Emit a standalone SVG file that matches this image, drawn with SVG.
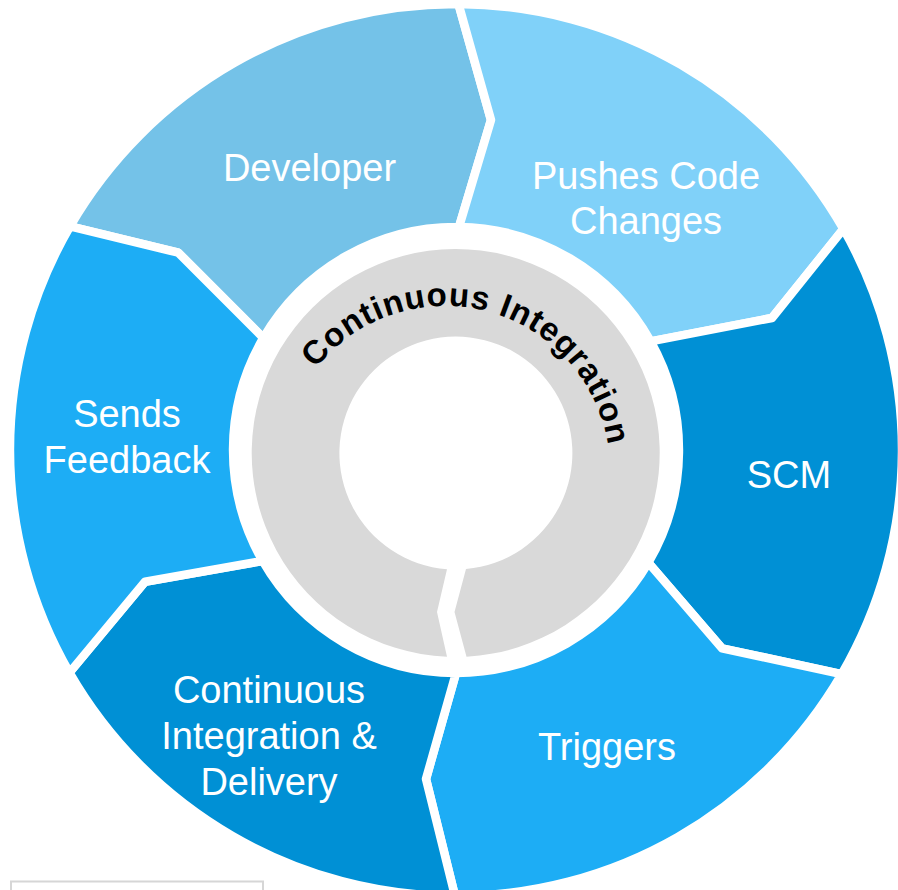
<svg xmlns="http://www.w3.org/2000/svg" width="898" height="890" viewBox="0 0 898 890">
  <style>
    .seg { stroke: #ffffff; stroke-width: 8.5; stroke-linejoin: round; }
    .lbl { font-family: "Liberation Sans", Arial, sans-serif; font-size: 38px; fill: #ffffff; text-anchor: middle; }
    .ring-lbl { font-family: "Liberation Sans", Arial, sans-serif; font-size: 33px; font-weight: bold; fill: #000000; letter-spacing: 0.9px; }
  </style>
  <defs>
    <path id="arcPath" d="M315.5,368.7 A165,165 0 0 1 604.4,513.7" fill="none"/>
  </defs>
  <rect width="898" height="890" fill="#ffffff"/>

  <g id="node-developer">
    <path class="seg" fill="#74C2E8" d="M70.1,226.3 A446,446 0 0 1 458.5,4 L491,120 L459,227 A223,223 0 0 0 263.3,337.9 L178.3,252.7 Z"/>
    <text class="lbl" x="309.5" y="181">Developer</text>
  </g>

  <g id="node-pushes">
    <path class="seg" fill="#80D1F9" d="M458.5,4 A446,446 0 0 1 843.4,229 L772,318 L650.7,341.4 A223,223 0 0 0 459,227 L491,120 Z"/>
    <text class="lbl" x="646" y="189">Pushes Code</text>
    <text class="lbl" x="646" y="234">Changes</text>
  </g>

  <g id="node-scm">
    <path class="seg" fill="#0090D5" d="M843.4,229 A446,446 0 0 1 841.6,674.2 L722,648.3 L648.4,562.7 A223,223 0 0 0 650.7,341.4 L772,318 Z"/>
    <text class="lbl" x="789" y="488">SCM</text>
  </g>

  <g id="node-triggers">
    <path class="seg" fill="#1DADF5" d="M841.6,674.2 A446,446 0 0 1 455,896 L426,779 L456,673 A223,223 0 0 0 648.4,562.7 L722,648.3 Z"/>
    <text class="lbl" x="607" y="760">Triggers</text>
  </g>

  <g id="node-cid">
    <path class="seg" fill="#0090D5" d="M455,896 A446,446 0 0 1 69.5,672.6 L145,581.7 L262.6,561 A223,223 0 0 0 456,673 L426,779 Z"/>
    <text class="lbl" x="269" y="703">Continuous</text>
    <text class="lbl" x="269" y="749">Integration &amp;</text>
    <text class="lbl" x="269" y="795">Delivery</text>
  </g>

  <g id="node-feedback">
    <path class="seg" fill="#1DADF5" d="M69.5,672.6 A446,446 0 0 1 70.1,226.3 L178.3,252.7 L263.3,337.9 A223,223 0 0 0 262.6,561 L145,581.7 Z"/>
    <text class="lbl" x="127" y="427">Sends</text>
    <text class="lbl" x="127" y="473">Feedback</text>
  </g>

  <g id="node-center">
    <path fill="#D9D9D9" d="M466.5,656.7 A204,204 0 1 0 447,656.8 L437,612 L447,569.2 A116.5,116.5 0 1 1 466,569.1 L454.5,612 Z"/>
    <text class="ring-lbl"><textPath href="#arcPath">Continuous Integration</textPath></text>
  </g>

  <g id="connectors"></g>

  <g id="box-bottom-left">
    <rect x="11" y="881.5" width="252" height="20" fill="none" stroke="#D6D6D6" stroke-width="2"/>
  </g>
</svg>
